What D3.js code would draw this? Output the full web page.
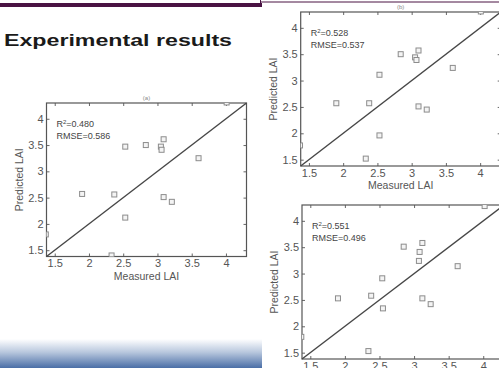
<!DOCTYPE html>
<html>
<head>
<meta charset="utf-8">
<script src="https://cdn.jsdelivr.net/npm/d3@7"></script>
<style>
  body { margin: 0; background: #fff; }
  svg { display: block; font-family: "Liberation Sans", Arial, sans-serif; }
</style>
</head>
<body>
<script>
var w = 499;
var h = 368;

// tick labels shared by both axes
var tickValues = [1.5, 2, 2.5, 3, 3.5, 4];
var lai = [1.38, 4.3];

// (a)
var measuredA  = [2.53, 2.83, 3.05, 3.09, 3.06, 3.60, 1.90, 2.37, 2.53, 3.09, 3.21, 4.01, 2.33, 1.37];
var predictedA = [3.47, 3.50, 3.47, 3.61, 3.41, 3.25, 2.57, 2.56, 2.12, 2.51, 2.42, 4.31, 1.40, 1.80];
// (b)
var measuredB  = [2.84, 3.05, 3.07, 3.10, 3.60, 2.53, 1.90, 2.38, 3.10, 3.22, 2.53, 2.33, 4.01, 1.37];
var predictedB = [3.50, 3.44, 3.39, 3.57, 3.24, 3.11, 2.57, 2.57, 2.51, 2.45, 1.96, 1.52, 4.31, 1.77];
// (c)
var measuredC  = [2.85, 3.12, 3.08, 3.07, 3.63, 2.54, 1.90, 2.38, 3.12, 3.24, 2.55, 2.34, 4.02, 1.37];
var predictedC = [3.51, 3.58, 3.41, 3.24, 3.14, 2.91, 2.53, 2.58, 2.53, 2.42, 2.34, 1.53, 4.28, 1.80];

// third panel's "(c)" caption is hidden behind the panel above it in the slide
var panels = [
  { name: "(a)", x: measuredA, y: predictedA, r2: "0.480", rmse: "0.586", left: 46.5,  top: 103, width: 200, height: 153.5 },
  { name: "(b)", x: measuredB, y: predictedB, r2: "0.528", rmse: "0.537", left: 300.7, top: 12,  width: 200, height: 154 },
  { name: "",    x: measuredC, y: predictedC, r2: "0.551", rmse: "0.496", left: 302,   top: 205, width: 202, height: 154 }
];

var svg = d3.select("body")
            .append("svg")
            .attr("width", w)
            .attr("height", h);

var defs = svg.append("defs");

var grad = defs.append("linearGradient")
               .attr("id", "foot")
               .attr("x1", 0).attr("y1", 0)
               .attr("x2", 0).attr("y2", 1);
grad.append("stop").attr("offset", "0%").attr("stop-color", "#ffffff");
grad.append("stop").attr("offset", "45%").attr("stop-color", "#b9c8de");
grad.append("stop").attr("offset", "100%").attr("stop-color", "#4a6ea6");

svg.append("rect").attr("width", w).attr("height", h).attr("fill", "#fff");

// slide decoration
svg.append("rect").attr("x", 0).attr("y", 3).attr("width", 262).attr("height", 4).attr("fill", "#4a1343");
svg.append("line").attr("x1", 260).attr("x2", w).attr("y1", 2).attr("y2", 2)
   .attr("stroke", "#4a1343").attr("stroke-width", 1);
svg.append("line").attr("x1", 260.5).attr("x2", 260.5).attr("y1", 0).attr("y2", 7)
   .attr("stroke", "#4a1343").attr("stroke-width", 1);
svg.append("rect").attr("x", 0).attr("y", 339).attr("width", 262).attr("height", 29).attr("fill", "url(#foot)");

svg.append("text")
   .attr("x", 4)
   .attr("y", 46)
   .attr("font-size", "16px")
   .attr("font-weight", "bold")
   .attr("fill", "#1a1a1a")
   .attr("textLength", 228)
   .attr("lengthAdjust", "spacingAndGlyphs")
   .text("Experimental results");

panels.forEach(function(p, k) {
    var g = svg.append("g").attr("transform", "translate(" + p.left + "," + p.top + ")");

    var x = d3.scaleLinear().domain(lai).range([0, p.width]);
    var y = d3.scaleLinear().domain(lai).range([p.height, 0]);

    defs.append("clipPath").attr("id", "clip" + k)
        .append("rect").attr("width", p.width).attr("height", p.height);

    var fmt = d3.format("");

    var styleAxis = function(sel) {
        sel.selectAll("path").remove();
        sel.selectAll("line").attr("stroke", "#666");
        sel.selectAll("text").attr("fill", "#555").attr("font-size", "11px").attr("font-family", null);
    };

    g.append("g").attr("transform", "translate(0," + p.height + ")")
     .call(d3.axisBottom(x).tickValues(tickValues).tickFormat(fmt).tickSizeInner(-3).tickSizeOuter(0).tickPadding(3))
     .call(styleAxis);
    g.append("g")
     .call(d3.axisLeft(y).tickValues(tickValues).tickFormat(fmt).tickSizeInner(-3).tickSizeOuter(0).tickPadding(3))
     .call(styleAxis);
    g.append("g")
     .call(d3.axisTop(x).tickValues(tickValues).tickFormat("").tickSizeInner(-3).tickSizeOuter(0))
     .call(styleAxis);
    g.append("g").attr("transform", "translate(" + p.width + ",0)")
     .call(d3.axisRight(y).tickValues(tickValues).tickFormat("").tickSizeInner(-3).tickSizeOuter(0))
     .call(styleAxis);

    g.append("rect")
     .attr("width", p.width)
     .attr("height", p.height)
     .attr("fill", "none")
     .attr("stroke", "#555")
     .attr("stroke-width", 1.2);

    // 1:1 line
    g.append("line")
     .attr("x1", x(lai[0])).attr("y1", y(lai[0]))
     .attr("x2", x(lai[1])).attr("y2", y(lai[1]))
     .attr("stroke", "#474747")
     .attr("stroke-width", 1.4);

    g.append("g")
     .attr("clip-path", "url(#clip" + k + ")")
     .selectAll("rect")
     .data(p.x)
     .enter()
     .append("rect")
     .attr("x", function(d) { return x(d) - 2.5; })
     .attr("y", function(d, i) { return y(p.y[i]) - 2.5; })
     .attr("width", 5)
     .attr("height", 5)
     .attr("fill", "#f4f4f4")
     .attr("stroke", "#8c8c8c")
     .attr("stroke-width", 1);

    var r2 = g.append("text")
              .attr("x", 10)
              .attr("y", 24)
              .attr("font-size", "9px")
              .attr("fill", "#444");
    r2.append("tspan").text("R");
    r2.append("tspan").attr("font-size", "6px").attr("dy", -3.5).text("2");
    r2.append("tspan").attr("dy", 3.5).text("=" + p.r2);

    g.append("text")
     .attr("x", 10)
     .attr("y", 36)
     .attr("font-size", "9px")
     .attr("fill", "#444")
     .text("RMSE=" + p.rmse);

    g.append("text")
     .attr("x", p.width / 2)
     .attr("y", p.height + 23)
     .attr("text-anchor", "middle")
     .attr("font-size", "10.5px")
     .attr("fill", "#555")
     .text("Measured LAI");

    g.append("text")
     .attr("transform", "translate(-24," + (p.height / 2) + ") rotate(-90)")
     .attr("text-anchor", "middle")
     .attr("font-size", "10.5px")
     .attr("fill", "#555")
     .text("Predicted LAI");

    if (p.name) {
        g.append("text")
         .attr("x", p.width / 2)
         .attr("y", -3)
         .attr("text-anchor", "middle")
         .attr("font-size", "6px")
         .attr("fill", "#888")
         .text(p.name);
    }
});
</script>
</body>
</html>
